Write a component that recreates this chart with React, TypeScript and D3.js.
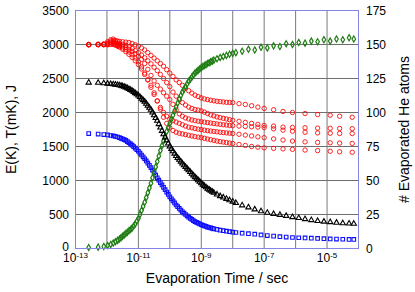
import * as d3 from 'd3';

// time grid (log10 of seconds) shared by J, T and evaporated atoms
const logTime = [
  -12.58, -12.28, -12.1, -11.98, -11.88, -11.8, -11.73, -11.66,
  -11.6, -11.55, -11.5, -11.45, -11.4, -11.35, -11.3, -11.25, -11.2, -11.15,
  -11.1, -11.05, -11.0, -10.95, -10.9, -10.85, -10.8, -10.75, -10.7, -10.65,
  -10.6, -10.55, -10.5, -10.45, -10.4, -10.35, -10.3, -10.25, -10.2, -10.15,
  -10.1, -10.05, -10.0, -9.95, -9.9, -9.85, -9.8, -9.75, -9.7, -9.65,
  -9.6, -9.55, -9.5, -9.45, -9.4, -9.35, -9.3, -9.25, -9.2, -9.15,
  -9.1, -9.05, -9.0, -8.95, -8.9, -8.85, -8.8, -8.75, -8.7, -8.65, -8.6,
  -8.5, -8.4, -8.3, -8.2, -8.1, -8.0, -7.9,
  -7.7, -7.5, -7.3, -7.1, -6.9, -6.7, -6.5, -6.3, -6.1, -5.9, -5.7, -5.5,
  -5.3, -5.1, -4.9, -4.7, -4.5, -4.3, -4.15,
];

// J (black triangles)
const jValues = [
  2440, 2437, 2430, 2425, 2420, 2415, 2410, 2405,
  2400, 2393, 2386, 2378, 2370, 2358, 2345, 2333, 2320, 2303,
  2285, 2268, 2250, 2228, 2205, 2183, 2160, 2130, 2100, 2070,
  2040, 2000, 1960, 1920, 1880, 1830, 1780, 1730, 1680, 1635,
  1590, 1545, 1500, 1465, 1430, 1395, 1360, 1332, 1305, 1278,
  1250, 1225, 1200, 1175, 1150, 1125, 1100, 1075, 1050, 1028,
  1005, 983, 960, 940, 920, 900, 880, 865, 850, 835, 820,
  795, 770, 750, 730, 710, 690, 670,
  635, 605, 575, 548, 525, 508, 495, 480, 462, 448, 432, 418,
  405, 395, 388, 380, 372, 367, 364,
];

// T in mK (blue squares)
const tValues = [
  1690, 1683, 1675, 1670, 1662, 1655, 1648, 1640,
  1630, 1620, 1610, 1600, 1590, 1573, 1555, 1538, 1520, 1498,
  1475, 1453, 1430, 1403, 1375, 1348, 1320, 1288, 1255, 1223,
  1190, 1153, 1115, 1078, 1040, 1005, 970, 935, 900, 865,
  830, 795, 760, 730, 700, 670, 640, 615, 590, 565,
  540, 520, 500, 480, 460, 443, 428, 411, 395, 383,
  372, 361, 350, 341, 332, 324, 315, 309, 302, 296, 290,
  280, 270, 262, 255, 248, 240, 235,
  226, 218, 210, 200, 190, 182, 174, 168, 162, 158, 156, 152,
  148, 145, 141, 138, 136, 134, 133,
];

// evaporated He atoms, right axis (green diamonds)
const heAtoms = [
  0.7, 1, 1.5, 2.2, 3, 4, 5, 6,
  7, 8, 9, 10, 11, 12, 13, 14, 15, 16.5,
  18, 20, 22, 25, 28, 31, 34, 37.5, 41, 44.5,
  48, 52, 56, 60, 64, 68, 72, 75.5, 79, 82.5,
  86, 89, 92, 95, 98, 101, 104, 107, 110, 112.5,
  115, 117, 119, 121, 123, 124.5, 126, 127.5, 129, 130,
  131, 132, 133, 133.8, 134.5, 135.2, 136, 136.6, 137.2, 137.8, 138.5,
  139.5, 140.5, 141.2, 142, 142.8, 143.5, 144,
  145, 146.5, 146, 148, 147.5, 149, 148.5, 150.5, 150, 151.5, 151, 152.5,
  152, 153.5, 152.5, 154, 153.5, 155, 154,
];

// time grid of the E(K) runs
const logTimeRuns = [
  -12.58, -12.28, -12.1, -11.98, -11.88, -11.8, -11.73, -11.66,
  -11.6, -11.5, -11.4, -11.3, -11.2, -11.1, -11.0, -10.9, -10.8, -10.7,
  -10.6, -10.5, -10.4, -10.3, -10.2, -10.1, -10.0, -9.9, -9.8, -9.7,
  -9.6, -9.5, -9.4, -9.3, -9.2, -9.1, -9.0, -8.9, -8.8, -8.7,
  -8.6, -8.5, -8.4, -8.3, -8.2, -8.1, -8.0,
  -7.8, -7.6, -7.4, -7.2, -7.0, -6.7, -6.4, -6.1, -5.7, -5.3, -4.9, -4.6, -4.2,
];

// E(K), red open circles, five runs
const energyRunA = [
  3000, 3005, 3010, 3040, 3070, 3080, 3060, 3050,
  3045, 3040, 3035, 3030, 3015, 2995, 2975, 2950, 2920, 2880,
  2840, 2800, 2760, 2720, 2680, 2630, 2580, 2530, 2480, 2440,
  2400, 2360, 2320, 2285, 2255, 2235, 2215, 2200, 2190, 2180,
  2172, 2165, 2160, 2155, 2150, 2148, 2145,
  2130, 2118, 2100, 2080, 2060, 2040, 2015, 2000, 1985, 1970, 1960, 1945, 1930,
];
const energyRunB = [
  2995, 3000, 3000, 3020, 3050, 3060, 3040, 3020,
  3010, 3000, 2985, 2965, 2940, 2910, 2880, 2845, 2805, 2760,
  2715, 2665, 2615, 2560, 2500, 2440, 2380, 2300, 2240, 2190,
  2145, 2110, 2080, 2060, 2045, 2035, 2025, 2005, 1985, 1965,
  1950, 1935, 1925, 1915, 1905, 1895, 1885,
  1870, 1855, 1840, 1825, 1810, 1800, 1785, 1780, 1775, 1770, 1768, 1765, 1762,
];
const energyRunC = [
  3000, 2995, 3000, 3010, 3030, 3040, 3020, 3000,
  2990, 2975, 2955, 2930, 2900, 2865, 2825, 2780, 2720, 2635,
  2545, 2465, 2400, 2345, 2290, 2240, 2190, 2120, 2040, 1980,
  1945, 1920, 1905, 1890, 1880, 1872, 1865, 1858, 1852, 1845,
  1838, 1832, 1826, 1820, 1815, 1810, 1806,
  1800, 1795, 1790, 1785, 1778, 1760, 1740, 1725, 1710, 1700, 1695, 1692, 1690,
];
const energyRunD = [
  3000, 3000, 2995, 3000, 3010, 3020, 3000, 2985,
  2970, 2950, 2925, 2890, 2850, 2800, 2745, 2670, 2580, 2480,
  2370, 2265, 2170, 2075, 2000, 1945, 1905, 1880, 1860, 1840,
  1820, 1800, 1785, 1775, 1765, 1755, 1748, 1740, 1733, 1727,
  1722, 1716, 1710, 1705, 1700, 1696, 1691,
  1680, 1668, 1655, 1642, 1630, 1612, 1595, 1580, 1568, 1560, 1555, 1550, 1545,
];
const energyRunE = [
  2995, 3000, 3000, 2995, 3000, 3000, 2990, 2975,
  2960, 2930, 2895, 2855, 2810, 2760, 2705, 2640, 2560, 2480,
  2400, 2290, 2170, 2050, 1930, 1840, 1775, 1735, 1710, 1695,
  1685, 1675, 1665, 1655, 1645, 1638, 1630, 1620, 1610, 1600,
  1590, 1580, 1572, 1565, 1558, 1550, 1544,
  1530, 1515, 1500, 1490, 1480, 1472, 1465, 1458, 1448, 1440, 1430, 1422, 1415,
];

const leftTicks = [0, 500, 1000, 1500, 2000, 2500, 3000, 3500];
const rightTicks = [0, 25, 50, 75, 100, 125, 150, 175];
const decades = [-13, -12, -11, -10, -9, -8, -7, -6, -5, -4];
const labelledDecades = [-13, -11, -9, -7, -5];

const W = 415;
const H = 292;
const box = { left: 75.5, right: 358.5, top: 10.5, bottom: 248.5 };
const font = '"Liberation Sans", Arial, Helvetica, sans-serif';

export default function App() {
  const x = d3.scaleLog().domain([1e-13, 1e-4]).range([box.left, box.right]);
  const yLeft = d3.scaleLinear().domain([0, 3500]).range([box.bottom, box.top]);
  const yRight = d3.scaleLinear().domain([0, 175]).range([box.bottom, box.top]);

  const tri = d3.symbol(d3.symbolTriangle, 12)();
  const sq = d3.symbol(d3.symbolSquare, 13)();
  const dia = d3.symbol(d3.symbolDiamond, 11)();

  const runs = [energyRunA, energyRunB, energyRunC, energyRunD, energyRunE];

  return (
    <svg
      width={W}
      height={H}
      style={{ position: 'fixed', left: 0, top: 0, background: '#fff' }}
      fontFamily={font}
    >
      {/* grid */}
      {leftTicks.map((t) => (
        <line key={'h' + t} x1={box.left} x2={box.right} y1={yLeft(t)} y2={yLeft(t)} stroke="#6e6e6e" strokeWidth={1} />
      ))}
      {decades.map((d) => (
        <line key={'v' + d} x1={x(10 ** d)} x2={x(10 ** d)} y1={box.top} y2={box.bottom} stroke="#7a7a7a" strokeWidth={1} />
      ))}

      {/* E(K) runs */}
      {runs.map((run, ri) =>
        run.map((v, i) => (
          <circle
            key={'e' + ri + '-' + i}
            cx={x(10 ** logTimeRuns[i])}
            cy={yLeft(v)}
            r={2.2}
            fill="none"
            stroke="#ff0000"
            strokeWidth={0.85}
          />
        ))
      )}

      {/* T(mK) */}
      {tValues.map((v, i) => (
        <path key={'t' + i} d={sq} transform={`translate(${x(10 ** logTime[i])},${yLeft(v)})`} fill="none" stroke="#0f0fff" strokeWidth={1.1} />
      ))}

      {/* evaporated atoms */}
      {heAtoms.map((v, i) => (
        <path key={'n' + i} d={dia} transform={`translate(${x(10 ** logTime[i])},${yRight(v)})`} fill="none" stroke="#1f7d14" strokeWidth={1.2} />
      ))}

      {/* J */}
      {jValues.map((v, i) => (
        <path key={'j' + i} d={tri} transform={`translate(${x(10 ** logTime[i])},${yLeft(v)})`} fill="none" stroke="#000" strokeWidth={1.1} />
      ))}

      {/* frame */}
      <rect x={box.left} y={box.top} width={box.right - box.left} height={box.bottom - box.top} fill="none" stroke="#8484e4" strokeWidth={1} />

      {/* left axis labels */}
      {leftTicks.map((t) => (
        <text key={'lt' + t} x={69} y={yLeft(t) - (t === 0 ? 2 : 0)} dy="0.35em" textAnchor="end" fontSize={12} fill="#000">
          {t}
        </text>
      ))}
      {/* right axis labels */}
      {rightTicks.map((t) => (
        <text key={'rt' + t} x={366} y={yRight(t)} dy="0.35em" textAnchor="start" fontSize={12} fill="#000">
          {t}
        </text>
      ))}
      {/* bottom axis labels */}
      {labelledDecades.map((d) => (
        <text key={'bt' + d} x={x(10 ** d)} y={262} textAnchor="middle" fontSize={12} fill="#000">
          10
          <tspan dy={-4.5} fontSize={8}>
            {d}
          </tspan>
        </text>
      ))}

      {/* titles */}
      <text x={(box.left + box.right) / 2} y={283} textAnchor="middle" fontSize={14} fill="#000">
        Evaporation Time / sec
      </text>
      <text transform={`translate(16,${(box.top + box.bottom) / 2}) rotate(-90)`} textAnchor="middle" fontSize={14} fill="#000">
        E(K), T(mK), J
      </text>
      <text transform={`translate(409,${(box.top + box.bottom) / 2}) rotate(-90)`} textAnchor="middle" fontSize={14} fill="#000">
        # Evaporated He atoms
      </text>
    </svg>
  );
}
